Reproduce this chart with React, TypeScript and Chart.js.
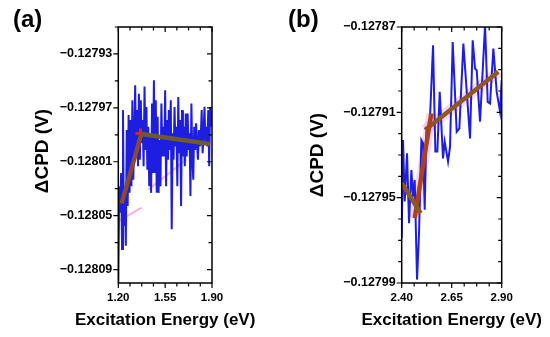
import { useEffect, useRef } from 'react';
import { Chart, registerables } from 'chart.js';
Chart.register(...registerables);

const FONT = '"Liberation Sans", Arial, sans-serif';

// ---------- Panel (a) ----------
const aXRange = [1.2, 1.9];
const aYRange = [-0.1281, -0.12791];
const aXMajor = [1.2, 1.55, 1.9];
const aXMajorLabels = ['1.20', '1.55', '1.90'];
const aXSub = 4;
const aYMajor = [-0.12809, -0.12805, -0.12801, -0.12797, -0.12793];
const aYMajorLabels = ['\u22120.12809', '\u22120.12805', '\u22120.12801', '\u22120.12797', '\u22120.12793'];
const aYSub = 2;
const aEnergyStart = 1.2;
const aEnergyStep = 0.007;
const aCPD = [
  -0.1281000, -0.1280282, -0.1280479, -0.1280183, -0.1280748, -0.1279717, -0.1280576, -0.1280282, -0.1280723, -0.1279864,
  -0.1280429, -0.1279754, -0.1280331, -0.1279791, -0.1280282, -0.1279644, -0.1280233, -0.1279938, -0.1279533, -0.1280061,
  -0.1279717, -0.1280134, -0.1279595, -0.1280085, -0.1279644, -0.1279963, -0.1279791, -0.1280134, -0.1279541, -0.1280012,
  -0.1279693, -0.1280159, -0.1279840, -0.1280282, -0.1279889, -0.1280331, -0.1279668, -0.1280183, -0.1279496, -0.1280183,
  -0.1279644, -0.1280331, -0.1279766, -0.1280331, -0.1279938, -0.1280282, -0.1279668, -0.1280061, -0.1279840, -0.1280061,
  -0.1279570, -0.1280282, -0.1279791, -0.1280085, -0.1279717, -0.1280012, -0.1279644, -0.1280601, -0.1279889, -0.1280085,
  -0.1279693, -0.1279987, -0.1279840, -0.1280282, -0.1279619, -0.1280036, -0.1279791, -0.1280429, -0.1279717, -0.1280061,
  -0.1279840, -0.1280134, -0.1279742, -0.1280061, -0.1279742, -0.1280012, -0.1279889, -0.1280355, -0.1279668, -0.1280061,
  -0.1280233, -0.1279840, -0.1280012, -0.1279815, -0.1279963, -0.1280085, -0.1279864, -0.1279987, -0.1279914, -0.1279717,
  -0.1280036, -0.1279889, -0.1279693, -0.1279963, -0.1279840, -0.1279987, -0.1279717, -0.1280134, -0.1279693, -0.1279840,
  -0.1279717,
];
const aFitRiseX = [1.225, 1.372];
const aFitRiseY = [-0.128041, -0.1279894];
const aFitFlatX = [1.372, 1.885];
const aFitFlatY = [-0.1279894, -0.1279968];
const aCrossX = [1.366];
const aCrossY = [-0.127989];
const aPink1X = [1.424, 1.711];
const aPink1Y = [-0.1280307, -0.1280081];
const aPink2X = [1.2, 1.375];
const aPink2Y = [-0.128054, -0.1280441];

// ---------- Panel (b) ----------
const bXRange = [2.4, 2.9];
const bYRange = [-0.12799, -0.12787];
const bXMajor = [2.4, 2.65, 2.9];
const bXMajorLabels = ['2.40', '2.65', '2.90'];
const bXSub = 4;
const bYMajor = [-0.12799, -0.12795, -0.12791, -0.12787];
const bYMajorLabels = ['\u22120.12799', '\u22120.12795', '\u22120.12791', '\u22120.12787'];
const bYSub = 4;
const bEnergy = [
  2.4, 2.4067, 2.415, 2.4267, 2.4367, 2.4483, 2.4567, 2.465, 2.4767, 2.4867,
  2.4983, 2.5067, 2.515, 2.5233, 2.5333, 2.54, 2.5567, 2.5683, 2.5783, 2.59,
  2.6067, 2.615, 2.6317, 2.6417, 2.655, 2.675, 2.6883, 2.7083, 2.7417, 2.755,
  2.7667, 2.775, 2.7917, 2.8167, 2.83, 2.8417, 2.8583, 2.875, 2.8917, 2.9,
];
const bCPD = [
  -0.1279690, -0.1279230, -0.1279518, -0.1279292, -0.1279620, -0.1279370, -0.1279495, -0.1279417, -0.1279884, -0.1279666,
  -0.1279230, -0.1279245, -0.1279557, -0.1279191, -0.1279175, -0.1279160, -0.1278786, -0.1279284, -0.1279284, -0.1279004,
  -0.1279316, -0.1279238, -0.1279331, -0.1279261, -0.1278770, -0.1279191, -0.1279175, -0.1278778, -0.1279222, -0.1278762,
  -0.1278895, -0.1278903, -0.1279144, -0.1278692, -0.1279051, -0.1279058, -0.1278801, -0.1279004, -0.1279097, -0.1278949,
];
const bFit1X = [2.4, 2.495];
const bFit1Y = [-0.1279432, -0.1279573];
const bFit2X = [2.465, 2.548];
const bFit2Y = [-0.1279596, -0.1279105];
const bFit3X = [2.517, 2.883];
const bFit3Y = [-0.1279183, -0.127891];

type Tick = { value: number; major: boolean; label: string };

function buildTicks(majors: number[], labels: string[], sub: number, min: number, max: number): Tick[] {
  const step = (majors[1] - majors[0]) / sub;
  const eps = Math.abs(step) * 1e-3;
  const out: Tick[] = [];
  for (let k = 1; k < 50; k++) {
    const v = majors[0] - k * step;
    if (v < min - eps) break;
    out.unshift({ value: v, major: false, label: '' });
  }
  majors.forEach((m, i) => {
    out.push({ value: m, major: true, label: labels[i] });
    if (i < majors.length - 1) {
      for (let k = 1; k < sub; k++) out.push({ value: m + k * step, major: false, label: '' });
    }
  });
  for (let k = 1; k < 50; k++) {
    const v = majors[majors.length - 1] + k * step;
    if (v > max + eps) break;
    out.push({ value: v, major: false, label: '' });
  }
  return out;
}

const pts = (xs: number[], ys: number[]) => xs.map((x, i) => ({ x, y: ys[i] }));

type Panel = {
  tag: string;
  xRange: number[];
  yRange: number[];
  xt: Tick[];
  yt: Tick[];
  yWidth: number;
  padRight: number;
  yTitleY: number;
  datasets: any[];
};

function lineDs(data: any[], color: string, width: number, order: number) {
  return {
    data,
    borderColor: color,
    backgroundColor: color,
    borderWidth: width,
    pointRadius: 0,
    tension: 0,
    fill: false,
    order,
    borderCapStyle: 'butt',
    borderJoinStyle: 'miter',
  };
}

function makeChart(canvas: HTMLCanvasElement, p: Panel) {
  const plugin = {
    id: 'frame' + p.tag,
    afterDatasetsDraw(chart: any) {
      const { ctx, chartArea, scales } = chart;
      const { left, right, top, bottom } = chartArea;
      ctx.save();
      ctx.strokeStyle = '#000';
      ctx.lineWidth = 1.5;
      ctx.strokeRect(left, top, right - left, bottom - top);
      ctx.lineWidth = 1.2;
      ctx.beginPath();
      p.xt.forEach((t) => {
        const px = scales.x.getPixelForValue(t.value);
        const L = t.major ? 5 : 3.5;
        ctx.moveTo(px, bottom);
        ctx.lineTo(px, bottom + L);
        ctx.moveTo(px, top);
        ctx.lineTo(px, top + L);
      });
      p.yt.forEach((t) => {
        const py = scales.y.getPixelForValue(t.value);
        const L = t.major ? 5 : 3.5;
        ctx.moveTo(left - L, py);
        ctx.lineTo(left, py);
        ctx.moveTo(right - L, py);
        ctx.lineTo(right, py);
      });
      ctx.stroke();
      ctx.fillStyle = '#000';
      ctx.textBaseline = 'middle';
      ctx.textAlign = 'left';
      ctx.font = `bold 24px ${FONT}`;
      ctx.fillText(p.tag, 13, 20);
      ctx.textAlign = 'center';
      ctx.font = `bold 17px ${FONT}`;
      ctx.fillText('Excitation Energy (eV)', (left + right) / 2, 320);
      ctx.translate(43, p.yTitleY);
      ctx.rotate(-Math.PI / 2);
      ctx.font = `bold 19px ${FONT}`;
      ctx.fillText('\u0394CPD (V)', 0, 0);
      ctx.restore();
    },
  };

  return new Chart(canvas, {
    type: 'line',
    data: { datasets: p.datasets },
    plugins: [plugin],
    options: {
      animation: false,
      responsive: false,
      events: [],
      layout: { padding: { left: 0, top: 27, right: p.padRight, bottom: 0 } },
      plugins: { legend: { display: false }, tooltip: { enabled: false } },
      scales: {
        x: {
          type: 'linear',
          min: p.xRange[0],
          max: p.xRange[1],
          afterFit: (s: any) => {
            s.height = 54;
          },
          afterBuildTicks: (s: any) => {
            s.ticks = p.xt.map((t) => ({ value: t.value }));
          },
          grid: { display: true, drawOnChartArea: false, drawTicks: true, tickLength: 5, color: 'rgba(0,0,0,0)' },
          border: { display: false },
          ticks: {
            autoSkip: false,
            maxRotation: 0,
            padding: 3,
            color: '#000',
            font: { family: FONT, size: 11.5, weight: 'bold' },
            callback: (_v: any, i: number) => (p.xt[i] ? p.xt[i].label : ''),
          },
        },
        y: {
          type: 'linear',
          min: p.yRange[0],
          max: p.yRange[1],
          afterFit: (s: any) => {
            s.width = p.yWidth;
          },
          afterBuildTicks: (s: any) => {
            s.ticks = p.yt.map((t) => ({ value: t.value }));
          },
          grid: { display: true, drawOnChartArea: false, drawTicks: true, tickLength: 5, color: 'rgba(0,0,0,0)' },
          border: { display: false },
          ticks: {
            autoSkip: false,
            padding: 1,
            color: '#000',
            font: { family: FONT, size: 12.5, weight: 'bold' },
            callback: (_v: any, i: number) => (p.yt[i] ? p.yt[i].label : ''),
          },
        },
      },
    } as any,
  });
}

const BLUE = '#1e1ee0';
const PINK = 'rgba(255,140,230,0.7)';
const PINKBAND = 'rgba(255,170,235,0.5)';

const panelA: Panel = {
  tag: '(a)',
  xRange: aXRange,
  yRange: aYRange,
  xt: buildTicks(aXMajor, aXMajorLabels, aXSub, aXRange[0], aXRange[1]),
  yt: buildTicks(aYMajor, aYMajorLabels, aYSub, aYRange[0], aYRange[1]),
  yWidth: 118.3,
  padRight: 275 - 212,
  yTitleY: 151,
  datasets: [
    lineDs(pts(aFitRiseX, aFitRiseY), '#8a4a2c', 4.5, 0),
    lineDs(pts(aFitFlatX, aFitFlatY), '#6e5a2e', 4.5, 0),
    {
      data: pts(aCrossX, aCrossY),
      showLine: false,
      pointStyle: 'cross',
      pointRadius: 5,
      pointBorderWidth: 3,
      pointBorderColor: '#cc2a2a',
      order: 0,
    },
    lineDs(aCPD.map((y, i) => ({ x: aEnergyStart + i * aEnergyStep, y })), BLUE, 2, 1),
    lineDs(pts(aPink1X, aPink1Y), PINK, 2, 2),
    lineDs(pts(aPink2X, aPink2Y), PINK, 2, 2),
  ],
};

const panelB: Panel = {
  tag: '(b)',
  xRange: bXRange,
  yRange: bYRange,
  xt: buildTicks(bXMajor, bXMajorLabels, bXSub, bXRange[0], bXRange[1]),
  yt: buildTicks(bYMajor, bYMajorLabels, bYSub, bYRange[0], bYRange[1]),
  yWidth: 126.7,
  padRight: 275 - 226.7,
  yTitleY: 155,
  datasets: [
    lineDs(pts(bFit1X, bFit1Y), '#8b5a20', 4.5, 0),
    lineDs(pts(bFit2X, bFit2Y), '#a8431e', 4.5, 0),
    lineDs(pts(bFit3X, bFit3Y), '#8b5a20', 4.5, 0),
    lineDs(bEnergy.map((x, i) => ({ x, y: bCPD[i] })), BLUE, 2, 1),
    lineDs(pts(bFit3X, bFit3Y), PINKBAND, 11, 2),
    lineDs(pts(bFit2X, bFit2Y), PINKBAND, 10, 2),
  ],
};

function PanelChart({ panel }: { panel: Panel }) {
  const ref = useRef<HTMLCanvasElement | null>(null);
  useEffect(() => {
    if (!ref.current) return;
    const chart = makeChart(ref.current, panel);
    return () => chart.destroy();
  }, [panel]);
  return <canvas ref={ref} width={275} height={337} style={{ display: 'block', width: 275, height: 337 }} />;
}

export default function App() {
  return (
    <div style={{ position: 'absolute', left: 0, top: 0, width: 550, height: 337, display: 'flex', background: '#fff' }}>
      <PanelChart panel={panelA} />
      <PanelChart panel={panelB} />
    </div>
  );
}
